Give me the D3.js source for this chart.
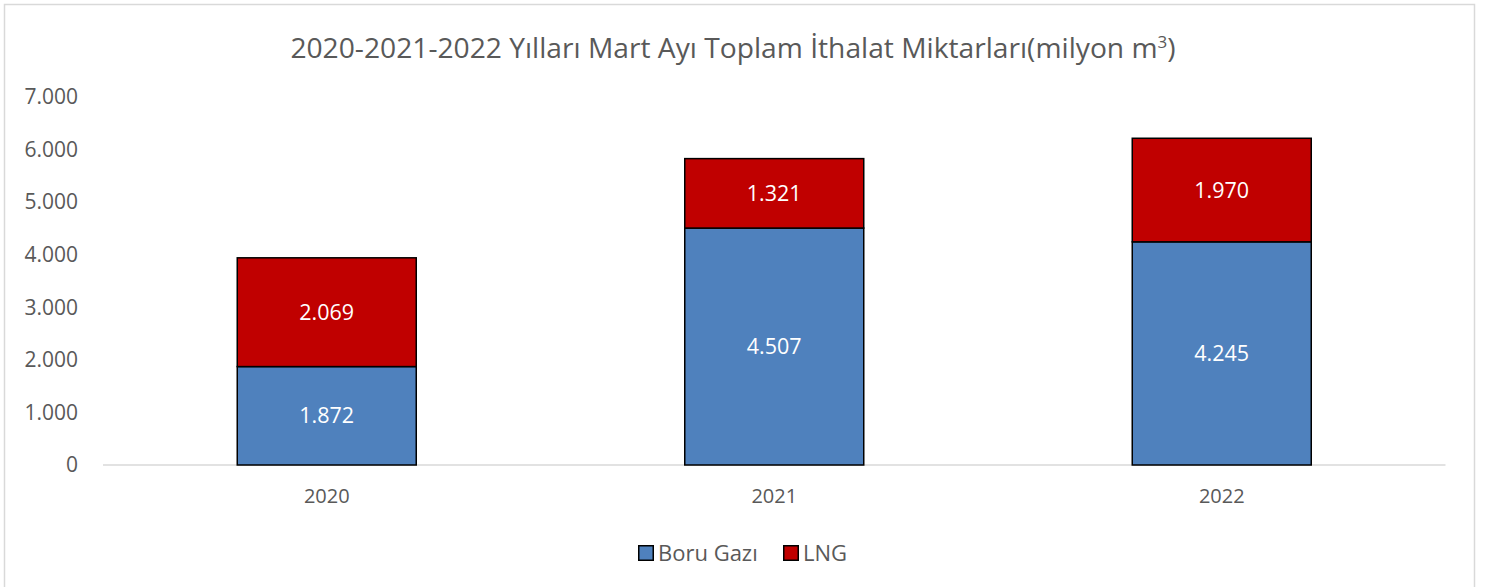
<!DOCTYPE html>
<html>
<head>
<meta charset="utf-8">
<script src="https://cdn.jsdelivr.net/npm/d3@7"></script>
<style>
  body { margin: 0; background: #fff; }
  text { font-family: "Open Sans", sans-serif; }
</style>
</head>
<body>
<svg id="chart" width="1490" height="587"></svg>
<script>
var years = ["2020", "2021", "2022"];
var boruGazi = [1872, 4507, 4245];
var lng = [2069, 1321, 1970];
var seriesNames = ["Boru Gazı", "LNG"];
var seriesColors = ["#4F81BD", "#C00000"];
var yTicks = [0, 1000, 2000, 3000, 4000, 5000, 6000, 7000];

var svg = d3.select("#chart");
var fmt = function(v){ return d3.format(",")(v).replace(/,/g, "."); };

// outer frame
svg.append("rect")
  .attr("x", 4.5).attr("y", 4.5)
  .attr("width", 1470).attr("height", 600)
  .attr("fill", "none").attr("stroke", "#d9d9d9").attr("stroke-width", 1.5);

var x = d3.scaleBand().domain(years).range([103, 1445.5]).paddingInner(0.6).paddingOuter(0.3);
var y = d3.scaleLinear().domain([0, 7000]).range([465, 97]);

// title
var title = svg.append("text")
  .attr("x", 733).attr("y", 58)
  .attr("text-anchor", "middle")
  .attr("fill", "#595959")
  .attr("font-size", 28.2);
title.append("tspan").text("2020-2021-2022 Yılları Mart Ayı Toplam İthalat Miktarları(milyon m");
title.append("tspan").attr("font-size", 17).attr("dy", -10).text("3");
title.append("tspan").attr("dy", 10).text(")");

// y tick labels
svg.selectAll(".ytick").data(yTicks).enter().append("text")
  .attr("class", "ytick")
  .attr("x", 78).attr("y", function(d){ return y(d); })
  .attr("dy", "0.35em")
  .attr("text-anchor", "end")
  .attr("fill", "#595959")
  .attr("font-size", 21)
  .text(function(d){ return fmt(d); });

// baseline
svg.append("line")
  .attr("x1", 103).attr("x2", 1445.5)
  .attr("y1", y(0)).attr("y2", y(0))
  .attr("stroke", "#d9d9d9").attr("stroke-width", 1.5);

var rows = years.map(function(yr, i){ return {year: yr, "Boru Gazı": boruGazi[i], "LNG": lng[i]}; });
var stacked = d3.stack().keys(seriesNames)(rows);

var groups = svg.selectAll(".series").data(stacked).enter().append("g")
  .attr("class", "series")
  .attr("fill", function(d, i){ return seriesColors[i]; });

groups.selectAll("rect").data(function(d){ return d; }).enter().append("rect")
  .attr("x", function(d){ return x(d.data.year); })
  .attr("y", function(d){ return y(d[1]); })
  .attr("width", x.bandwidth())
  .attr("height", function(d){ return y(d[0]) - y(d[1]); })
  .attr("stroke", "#000").attr("stroke-width", 1.5);

groups.selectAll("text").data(function(d){ return d; }).enter().append("text")
  .attr("x", function(d){ return x(d.data.year) + x.bandwidth() / 2; })
  .attr("y", function(d){ return (y(d[0]) + y(d[1])) / 2; })
  .attr("dy", "0.35em")
  .attr("text-anchor", "middle")
  .attr("fill", "#fff")
  .attr("font-size", 21.5)
  .text(function(d){ return fmt(d[1] - d[0]); });

// x labels
svg.selectAll(".xlab").data(years).enter().append("text")
  .attr("class", "xlab")
  .attr("x", function(d){ return x(d) + x.bandwidth() / 2; })
  .attr("y", 496).attr("dy", "0.35em")
  .attr("text-anchor", "middle")
  .attr("fill", "#595959")
  .attr("font-size", 20)
  .text(function(d){ return d; });

// legend
var legendX = [638, 783];
var leg = svg.selectAll(".leg").data(seriesNames).enter().append("g")
  .attr("class", "leg")
  .attr("transform", function(d, i){ return "translate(" + legendX[i] + ",553)"; });
leg.append("rect")
  .attr("x", 0.75).attr("y", -7.25).attr("width", 14.5).attr("height", 14.5)
  .attr("fill", function(d, i){ return seriesColors[i]; })
  .attr("stroke", "#000").attr("stroke-width", 1.5);
leg.append("text")
  .attr("x", 20).attr("y", 0).attr("dy", "0.35em")
  .attr("fill", "#595959").attr("font-size", 22)
  .text(function(d){ return d; });
</script>
</body>
</html>
